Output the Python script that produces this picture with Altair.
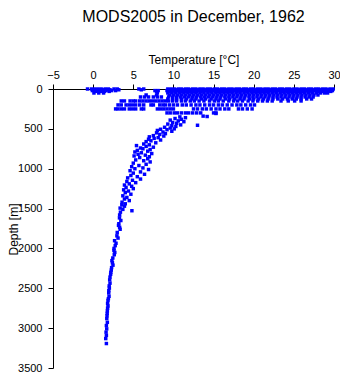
import altair as alt
import pandas as pd

# Temperatures (deg C) observed at standard shallow levels (depth in m)
T0 = [-0.7, -0.2, 0.2, 0.6, 1.0, 1.5, 1.9, 2.6, 3.0, 5.7, 6.3, 9.3, 9.7, 10.1, 10.6, 11.0, 11.5, 11.9,
      12.4, 12.8, 13.3, 13.7, 14.2, 14.6, 15.1, 15.5, 16.0, 16.4, 16.9, 17.3, 17.8, 18.2, 18.7, 19.1,
      19.6, 20.0, 20.5, 20.9, 21.4, 21.8, 22.3, 22.7, 23.2, 23.6, 24.1, 24.5, 25.0, 25.4, 25.9, 26.3,
      26.8, 27.2, 27.7, 28.1, 28.6, 29.0, 29.5, 29.9]
T10 = [0.0, 0.4, 0.8, 1.2, 1.7, 2.1, 3.2, 6.0, 9.5, 9.9, 10.3, 10.8, 11.2, 11.7, 12.1, 12.6, 13.0,
       13.5, 13.9, 14.4, 14.8, 15.3, 15.7, 16.2, 16.6, 17.1, 17.5, 18.0, 18.4, 18.9, 19.3, 19.8, 20.2,
       20.7, 21.1, 21.6, 22.0, 22.5, 22.9, 23.4, 23.8, 24.3, 24.7, 25.2, 25.6, 26.1, 26.5, 27.0, 27.4,
       27.9, 28.3, 28.8, 29.2, 29.7]
T20 = [-0.1, 0.5, 1.1, 1.6, 2.3, 2.8, 7.7, 8.1, 9.2, 9.6, 10.0, 10.5, 10.9, 11.4, 11.8, 12.3, 12.7,
       13.2, 13.6, 14.1, 14.5, 15.0, 15.4, 15.9, 16.3, 16.8, 17.2, 17.7, 18.1, 18.6, 19.0, 19.5, 19.9,
       20.4, 20.8, 21.3, 21.7, 22.2, 22.6, 23.1, 23.5, 24.0, 24.4, 24.9, 25.3, 25.8, 26.2, 26.7, 27.1,
       27.6, 28.0, 28.5, 28.9, 29.4, 29.8]
T30 = [0.3, 0.9, 1.4, 2.0, 7.9, 9.4, 9.8, 10.2, 10.7, 11.1, 11.6, 12.0, 12.5, 12.9, 13.4, 13.8, 14.3,
       14.7, 15.2, 15.6, 16.1, 16.5, 17.0, 17.4, 17.9, 18.3, 18.8, 19.2, 19.7, 20.1, 20.6, 21.0, 21.5,
       21.9, 22.4, 22.8, 23.3, 23.7, 24.2, 24.6, 25.1, 25.5, 26.0, 26.4, 26.9, 27.3, 27.8, 28.2, 28.7,
       29.1, 29.6]
T50 = [0.1, 0.7, 1.3, 8.0, 9.3, 9.8, 10.3, 10.8, 11.3, 11.8, 12.3, 12.8, 13.3, 13.8, 14.3, 14.8, 15.3,
       15.8, 16.3, 16.8, 17.3, 17.8, 18.3, 18.8, 19.3, 19.8, 20.3, 20.8, 21.3, 21.8, 22.3, 22.8, 23.3,
       23.8, 24.3, 24.8, 25.3, 25.8, 26.3, 26.8, 27.3, 27.8, 28.3, 28.8, 29.2]
T75 = [6.6, 7.9, 9.5, 10.0, 10.5, 11.0, 11.5, 12.0, 12.5, 13.0, 13.5, 14.0, 14.5, 15.0, 15.5, 16.0,
       16.5, 17.0, 17.5, 18.0, 18.5, 19.0, 19.5, 20.0, 20.5, 21.0, 21.5, 22.0, 22.5, 23.0, 23.5, 24.0,
       24.5, 25.0, 25.5, 26.0, 26.5, 27.0, 27.5, 28.0]
T100 = [5.9, 6.4, 6.9, 7.5, 8.0, 8.5, 9.4, 9.9, 10.4, 10.9, 11.4, 11.9, 12.4, 12.9, 13.4, 13.9, 14.4,
        14.9, 15.4, 15.9, 16.4, 16.9, 17.4, 17.9, 18.4, 18.9, 19.4, 19.9, 20.4, 20.9, 21.4, 21.9, 22.4,
        22.9, 23.4, 23.9, 24.4, 24.9, 25.4, 25.9, 26.4, 26.9, 27.4]
T125 = [9.3, 9.9, 10.4, 11.0, 11.6, 12.3, 12.8, 13.5, 14.0, 14.7, 15.3, 15.8, 16.5, 17.0, 17.6, 18.3,
        18.8, 19.5, 20.0, 20.6, 21.2, 21.8, 22.4, 23.0, 23.6, 24.2, 24.8, 25.3, 25.9, 26.6, 27.2]
T150 = [3.5, 3.9, 4.6, 5.0, 5.3, 5.8, 6.2, 6.6, 7.0, 7.4, 7.8, 8.2, 8.6, 9.0, 9.4, 9.9, 10.4, 11.0,
        11.5, 12.1, 12.6, 13.2, 13.8, 14.5, 15.1, 15.6, 16.2, 16.9, 17.5, 18.0, 18.6, 19.3, 19.9, 20.5,
        21.1, 21.7, 22.3, 23.4, 24.3, 25.1, 25.9]
T200 = [3.1, 3.5, 4.1, 4.5, 4.9, 5.3, 5.8, 6.3, 7.2, 7.5, 8.3, 8.7, 9.0, 9.5, 10.0, 10.5, 11.1, 11.6,
        12.2, 12.8, 13.3, 13.9, 14.5, 15.0, 15.6, 16.1, 16.7, 17.3, 17.9, 18.4, 19.0, 19.6, 20.1]
T250 = [2.8, 3.1, 3.5, 3.9, 4.5, 4.9, 5.3, 6.0, 6.3, 8.0, 8.4, 8.8, 9.2, 9.6, 10.0, 12.5, 13.0, 13.6,
        14.1, 14.7, 15.3, 15.8, 16.4, 16.9, 18.1, 18.6, 19.2, 19.8]
T300 = [9.2, 9.6, 10.1, 10.5, 11.0, 11.5, 11.9, 12.4, 12.9, 13.4, 15.0, 15.3]

LEVELS = [0, 10, 20, 30, 50, 75, 100, 125, 150, 200, 250, 300]
LEVEL_TEMPS = [T0, T10, T20, T30, T50, T75, T100, T125, T150, T200, T250, T300]

# Deeper observations (depth m, temperature deg C)
DEEP_DEPTH = [307, 340, 345, 350, 360, 370, 380, 390, 400, 410, 420, 430, 440, 450, 455, 460, 470, 480,
              490, 500, 505, 510, 520, 530, 540, 550, 560, 570, 585, 590, 600, 610, 620, 630, 640, 650,
              660, 675, 690, 700, 710, 720, 730, 740, 750, 760, 770, 780, 790, 800, 810, 820, 830, 840,
              850, 860, 875, 890, 900, 915, 930, 945, 960, 975, 990, 1000, 1010, 1025, 1040, 1055, 1070,
              1085, 1100, 1115, 1130, 1145, 1160, 1175, 1190, 1205, 1220, 1235, 1250, 1265, 1280, 1300,
              1320, 1340, 1360, 1380, 1400, 1420, 1440, 1453, 1470, 1494, 1510, 1527, 1545, 1580, 1617,
              1650, 1690, 1711, 1735, 1760, 1800, 1842, 1870, 1903, 1935, 1965, 2000, 2026, 2050, 2079,
              2120, 2153, 2180, 2210, 2240, 2272, 2300, 2325, 2360, 2395, 2436, 2470, 2497, 2530, 2558,
              2600, 2630, 2652, 2690, 2722, 2750, 2784, 2815, 2845, 2880, 2927, 2968, 3009, 3050, 3090,
              3131, 3193]
DEEP_TEMP = [15.3, 13.7, 14.2, 10.8, 11.5, 10.2, 11.0, 9.6, 10.6, 11.3, 9.9, 10.4, 9.3, 10.9, 13.0, 9.8,
             10.3, 8.9, 9.6, 10.1, 8.4, 9.2, 8.0, 9.8, 8.7, 7.9, 9.0, 8.3, 7.5, 8.8, 7.0, 8.1, 7.6, 6.9,
             8.4, 7.2, 6.6, 7.8, 6.3, 7.0, 5.4, 6.6, 7.5, 5.9, 6.2, 7.1, 5.5, 6.8, 5.2, 6.0, 7.3, 5.6,
             6.5, 5.1, 7.0, 5.8, 6.8, 5.3, 6.3, 7.1, 5.0, 6.6, 5.7, 4.8, 6.2, 5.2, 6.9, 4.6, 5.9, 5.0,
             6.4, 4.7, 5.5, 4.3, 5.9, 4.9, 4.2, 5.3, 4.5, 3.9, 4.8, 4.1, 5.0, 3.8, 4.4, 4.0, 4.7, 3.7,
             4.2, 3.9, 4.5, 3.6, 4.0, 3.57, 3.9, 3.36, 3.7, 4.83, 3.4, 3.3, 3.28, 3.45, 3.2, 3.16, 3.3,
             3.36, 3.0, 2.96, 3.1, 2.67, 2.85, 2.75, 2.6, 2.59, 2.7, 2.63, 2.45, 2.34, 2.4, 2.47, 2.3,
             2.26, 2.2, 2.18, 2.1, 2.06, 2.1, 2.0, 2.02, 1.95, 1.94, 1.98, 1.9, 1.85, 1.8, 1.85, 1.8,
             1.77, 1.75, 1.73, 1.7, 1.77, 1.65, 1.69, 1.61, 1.65, 1.57, 1.65]

rows = []
for d, temps in zip(LEVELS, LEVEL_TEMPS):
    for t in temps:
        rows.append({"temp": t, "depth": d})
for d, t in zip(DEEP_DEPTH, DEEP_TEMP):
    rows.append({"temp": t, "depth": d})
df = pd.DataFrame(rows)

FONT = "Liberation Sans"

chart = alt.Chart(df).mark_square(size=12, color="#0000ff", opacity=1).encode(
    x=alt.X("temp:Q",
            scale=alt.Scale(domain=[-5, 30], nice=False, zero=False),
            axis=alt.Axis(orient="top", title="Temperature [°C]", values=[-5, 0, 5, 10, 15, 20, 25, 30],
                          format="d", grid=False, tickSize=5, labelPadding=4, titlePadding=3,
                          labelFontSize=11, titleFontSize=12, titleFontWeight="normal",
                          labelFont=FONT, titleFont=FONT, labelColor="black", titleColor="black",
                          domainColor="black", tickColor="black", labelFlush=False)),
    y=alt.Y("depth:Q",
            scale=alt.Scale(domain=[0, 3500], reverse=True, nice=False),
            axis=alt.Axis(title="Depth [m]", values=[0, 500, 1000, 1500, 2000, 2500, 3000, 3500],
                          format="d", grid=False, tickSize=5, labelPadding=6,
                          titleX=-40, titleY=140, titleAngle=-90, titleBaseline="middle",
                          titleAlign="center",
                          labelFontSize=11, titleFontSize=12, titleFontWeight="normal",
                          labelFont=FONT, titleFont=FONT, labelColor="black", titleColor="black",
                          domainColor="black", tickColor="black", labelFlush=False)),
).properties(
    width=281, height=279,
    autosize="none",
    padding={"left": 45, "top": 81, "right": 6, "bottom": 4},
    title=alt.TitleParams("MODS2005 in December, 1962", fontSize=16, fontWeight="normal",
                          font=FONT, color="black", offset=28, anchor="middle"),
).configure(background="white", view=alt.ViewConfig(stroke=None))

chart.save("out.html", embed_options={"renderer": "svg", "actions": False})
